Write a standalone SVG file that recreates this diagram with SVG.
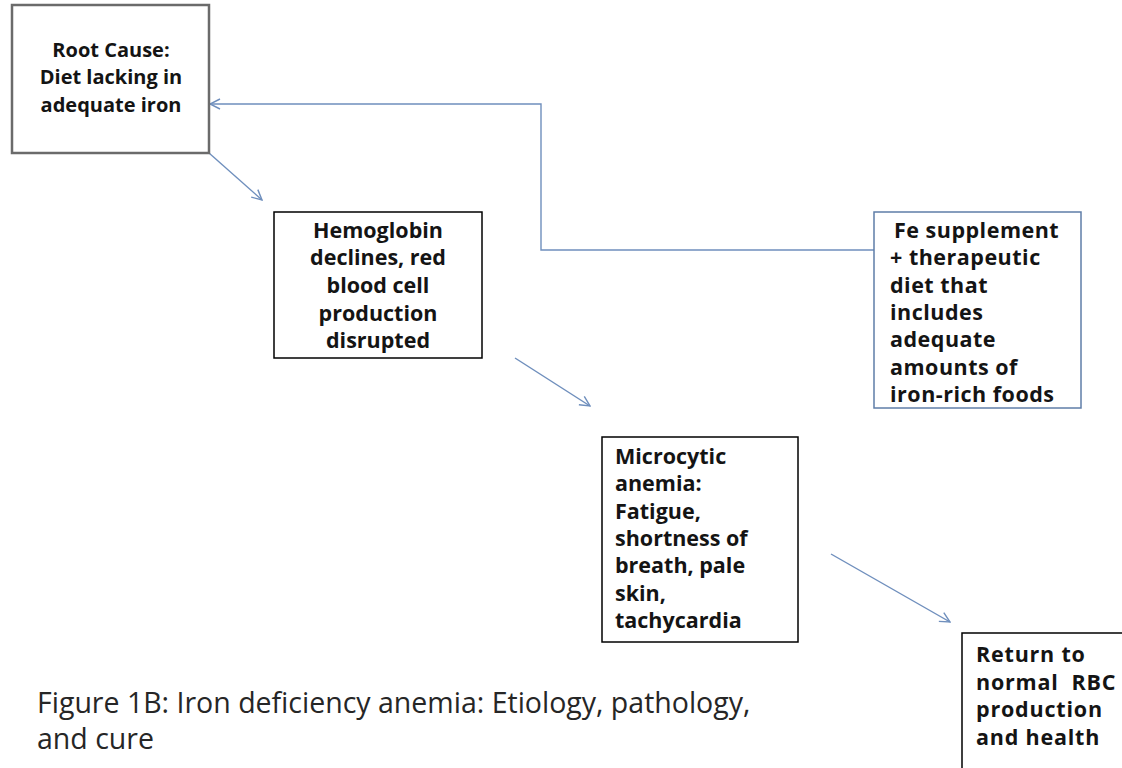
<svg xmlns="http://www.w3.org/2000/svg" width="1122" height="768" viewBox="0 0 1122 768">
  <defs>
    <style>
      .box { fill: #ffffff; stroke: #000000; stroke-width: 1.5; }
      .box-gray { fill: #ffffff; stroke: #6b6b6b; stroke-width: 2.5; }
      .box-blue { fill: #ffffff; stroke: #5f7ea8; stroke-width: 1.5; }
      .label { font-family: "Open Sans", "Liberation Sans", sans-serif; font-weight: bold; fill: #141414; }
      .mid { text-anchor: middle; }
      .caption { font-family: "Open Sans", "Liberation Sans", sans-serif; font-size: 28.5px; fill: #262626; }
      .link { fill: none; stroke: #6f8fbd; stroke-width: 1.4; }
    </style>
    <marker id="open-arrow" viewBox="0 0 12 12" refX="11" refY="6" markerWidth="12" markerHeight="12" markerUnits="userSpaceOnUse" orient="auto">
      <path d="M1,1 L11,6 L1,11" fill="none" stroke="#6f8fbd" stroke-width="1.4"/>
    </marker>
  </defs>

  <rect width="1122" height="768" fill="#ffffff"/>

  <!-- connectors -->
  <g id="connectors">
    <line class="link" x1="209" y1="153" x2="262" y2="200" marker-end="url(#open-arrow)"/>
    <polyline class="link" points="874,250 541,250 541,104 210,104" marker-end="url(#open-arrow)"/>
    <line class="link" x1="515" y1="358" x2="590" y2="406" marker-end="url(#open-arrow)"/>
    <line class="link" x1="831" y1="554" x2="950" y2="622" marker-end="url(#open-arrow)"/>
  </g>

  <!-- root cause -->
  <g id="root-cause">
    <rect class="box-gray" x="12" y="5" width="197" height="148"/>
    <text class="label mid" font-size="20"><tspan x="111" y="57">Root Cause:</tspan><tspan x="111" y="84">Diet lacking in</tspan><tspan x="111" y="112">adequate iron</tspan></text>
  </g>

  <!-- hemoglobin decline -->
  <g id="hemoglobin">
    <rect class="box" x="274" y="212" width="208" height="146"/>
    <text class="label mid" font-size="21.5"><tspan x="378" y="238">Hemoglobin</tspan><tspan x="378" y="265">declines, red</tspan><tspan x="378" y="293">blood cell</tspan><tspan x="378" y="321">production</tspan><tspan x="378" y="348">disrupted</tspan></text>
  </g>

  <!-- treatment -->
  <g id="treatment">
    <rect class="box-blue" x="874" y="212" width="207" height="196"/>
    <text class="label" font-size="21.5" letter-spacing="0.5"><tspan x="894" y="238">Fe supplement</tspan><tspan x="890" y="265.3">+ therapeutic</tspan><tspan x="890" y="292.6">diet that</tspan><tspan x="890" y="319.9">includes</tspan><tspan x="890" y="347.2">adequate</tspan><tspan x="890" y="374.5">amounts of</tspan><tspan x="890" y="401.8">iron-rich foods</tspan></text>
  </g>

  <!-- microcytic anemia -->
  <g id="microcytic">
    <rect class="box" x="602" y="437" width="196" height="205"/>
    <text class="label" font-size="21.5"><tspan x="615" y="464">Microcytic</tspan><tspan x="615" y="491.3">anemia:</tspan><tspan x="615" y="518.6">Fatigue,</tspan><tspan x="615" y="545.9">shortness of</tspan><tspan x="615" y="573.2">breath, pale</tspan><tspan x="615" y="600.5">skin,</tspan><tspan x="615" y="627.8">tachycardia</tspan></text>
  </g>

  <!-- recovery -->
  <g id="recovery">
    <rect class="box" x="962" y="633" width="170" height="150"/>
    <text class="label" font-size="21.5" letter-spacing="0.8" xml:space="preserve"><tspan x="976" y="662">Return to</tspan><tspan x="976" y="690">normal  RBC</tspan><tspan x="976" y="717">production</tspan><tspan x="976" y="745">and health</tspan></text>
  </g>

  <!-- caption -->
  <g id="caption">
    <text class="caption"><tspan x="37" y="713">Figure 1B: Iron deficiency anemia: Etiology, pathology,</tspan><tspan x="37" y="749">and cure</tspan></text>
  </g>
</svg>
